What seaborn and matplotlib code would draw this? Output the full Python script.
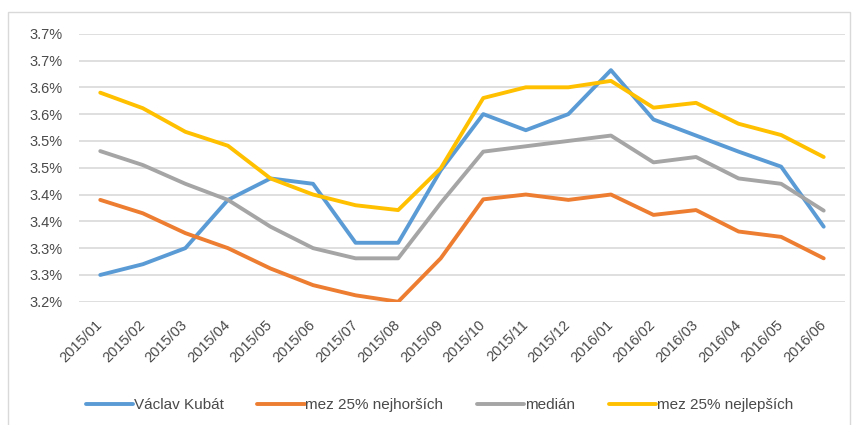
import seaborn as sns
import pandas as pd
import matplotlib.pyplot as plt
from matplotlib.patches import Rectangle

months = ['2015/01', '2015/02', '2015/03', '2015/04', '2015/05', '2015/06',
          '2015/07', '2015/08', '2015/09', '2015/10', '2015/11', '2015/12',
          '2016/01', '2016/02', '2016/03', '2016/04', '2016/05', '2016/06']

kubat = [3.25, 3.27, 3.30, 3.39, 3.43, 3.42, 3.31, 3.31, 3.445, 3.55, 3.52, 3.55,
         3.632, 3.54, 3.51, 3.48, 3.452, 3.34]
worst25 = [3.39, 3.365, 3.328, 3.30, 3.262, 3.231, 3.212, 3.20, 3.281, 3.391, 3.40, 3.39,
           3.40, 3.362, 3.371, 3.331, 3.321, 3.281]
median = [3.481, 3.455, 3.42, 3.39, 3.34, 3.30, 3.281, 3.281, 3.384, 3.48, 3.49, 3.50,
          3.51, 3.46, 3.47, 3.43, 3.42, 3.37]
best25 = [3.59, 3.561, 3.517, 3.491, 3.43, 3.40, 3.38, 3.371, 3.449, 3.58, 3.60, 3.60,
          3.612, 3.562, 3.571, 3.532, 3.511, 3.47]

series_names = ['Václav Kubát', 'mez 25% nejhorších', 'medián', 'mez 25% nejlepších']
colors = ['#5B9BD5', '#ED7D31', '#A5A5A5', '#FFC000']

y_ticks = [3.20, 3.25, 3.30, 3.35, 3.40, 3.45, 3.50, 3.55, 3.60, 3.65, 3.70]
y_labels = ['3.2%', '3.3%', '3.3%', '3.4%', '3.4%', '3.5%', '3.5%', '3.6%', '3.6%', '3.7%', '3.7%']

frames = []
for name, vals in zip(series_names, [kubat, worst25, median, best25]):
    frames.append(pd.DataFrame({'month': months, 'value': vals, 'series': name}))
df = pd.concat(frames, ignore_index=True)

sns.set_style('white')
plt.rcParams['font.family'] = ['Liberation Sans', 'DejaVu Sans']

fig = plt.figure(figsize=(8.53, 4.25), dpi=100)
ax = fig.add_axes([0.0926, 0.290, 0.898, 0.6307])

sns.lineplot(data=df, x='month', y='value', hue='series', hue_order=series_names,
             palette=colors, linewidth=2.8, sort=False, ax=ax)

ax.set_xlim(-0.5, len(months) - 0.5)
ax.set_ylim(3.20, 3.70)
ax.set_yticks(y_ticks)
ax.set_yticklabels(y_labels)
ax.set_xticks(range(len(months)))
ax.set_xticklabels(months, rotation=45, ha='right', va='center', rotation_mode='anchor')
ax.tick_params(axis='both', length=0, labelsize=10.5, labelcolor='#4a4a4a')
ax.tick_params(axis='x', pad=15)
ax.tick_params(axis='y', pad=12)
ax.grid(axis='y', color='#D9D9D9', linewidth=1.2)
ax.grid(axis='x', visible=False)
ax.set_axisbelow(True)
ax.set_xlabel('')
ax.set_ylabel('')
sns.despine(ax=ax, left=True, bottom=True)

ax.legend_.remove()
handles, labels = ax.get_legend_handles_labels()
fig.legend(handles, labels, loc='center', bbox_to_anchor=(0.515, 0.047), ncol=4,
           frameon=False, fontsize=11, handlelength=3.1, handletextpad=0.05,
           columnspacing=2.2, labelcolor='#4a4a4a')

fig.patches.append(Rectangle((8 / 853, -0.01), 842 / 853, 1 - 12 / 425 + 0.01,
                             transform=fig.transFigure, fill=False,
                             edgecolor='#D9D9D9', linewidth=1.0))

plt.savefig('out.png', dpi=100)
